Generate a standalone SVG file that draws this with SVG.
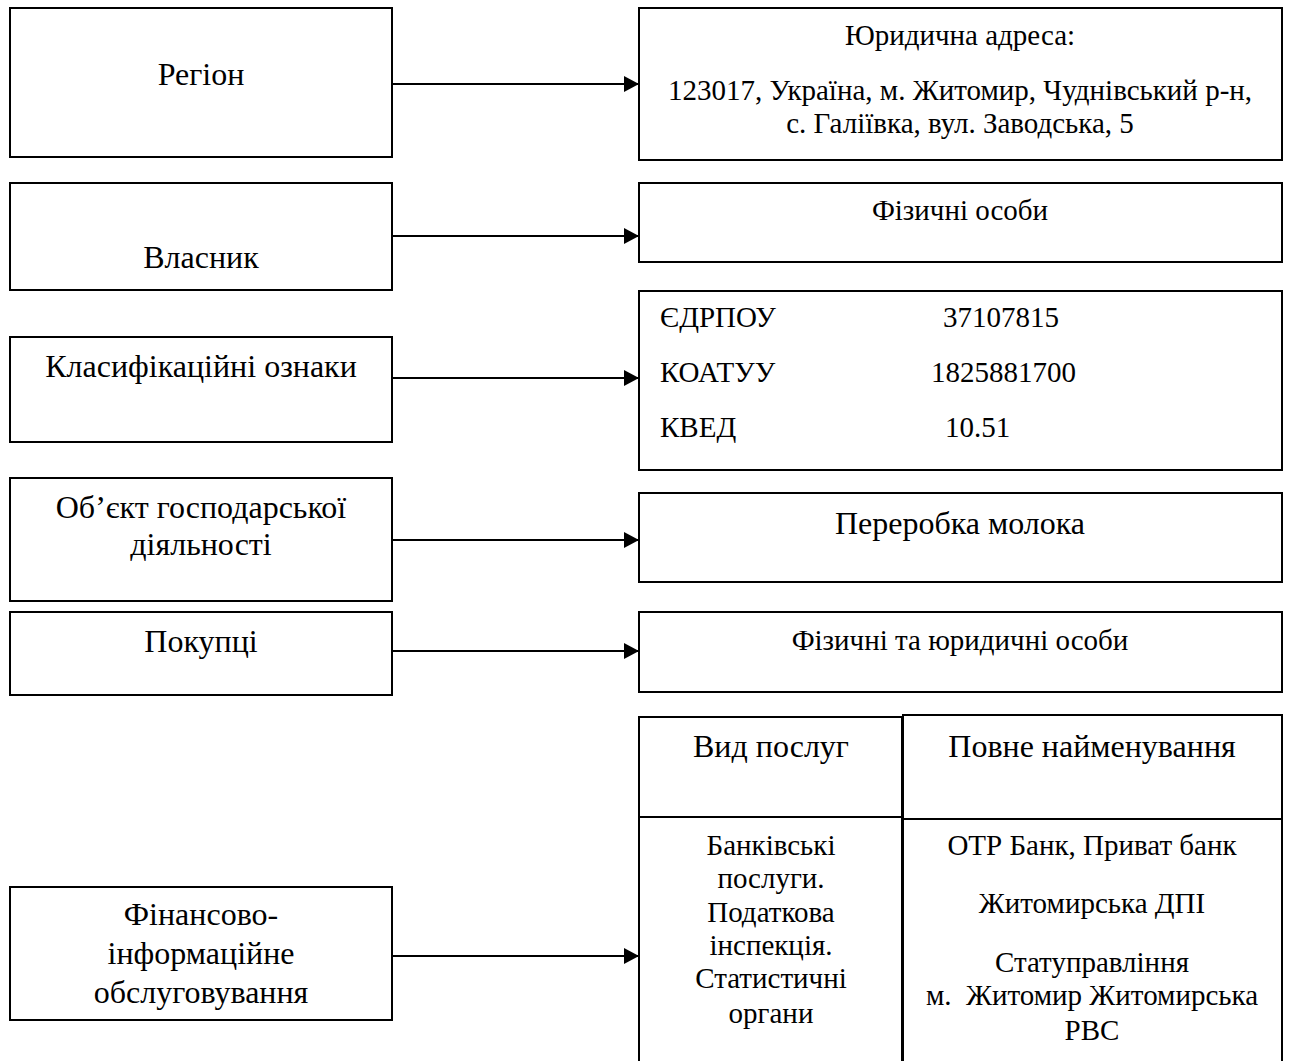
<svg xmlns="http://www.w3.org/2000/svg" width="1289" height="1061" viewBox="0 0 1289 1061">
<defs>
<marker id="arr" markerUnits="userSpaceOnUse" markerWidth="16" markerHeight="16" refX="15" refY="8" orient="auto">
<path d="M0,0 L15,8 L0,16 Z" fill="#000"/>
</marker>
<style>
rect{fill:#fff;stroke:#000;stroke-width:2}
text{font-family:"Liberation Serif","Times New Roman",serif;fill:#000}
.l{font-size:32px;text-anchor:middle}
.m{font-size:29px;text-anchor:middle}
.s{font-size:29px}
.c{stroke:#000;stroke-width:2;fill:none;marker-end:url(#arr)}
line.t{stroke:#000;stroke-width:2}
</style>
</defs>
<rect width="1289" height="1061" style="stroke:none"/>
<g id="n-region"><rect x="10" y="8" width="382" height="149"/><text class="l" x="201" y="85">Регіон</text></g>
<g id="n-vlasnyk"><rect x="10" y="183" width="382" height="107"/><text class="l" x="201" y="268">Власник</text></g>
<g id="n-klas"><rect x="10" y="337" width="382" height="105"/><text class="l" x="201" y="377">Класифікаційні ознаки</text></g>
<g id="n-obj"><rect x="10" y="478" width="382" height="123"/><text class="l" x="201" y="518">Об’єкт господарської</text><text class="l" x="201" y="555">діяльності</text></g>
<g id="n-pokuptsi"><rect x="10" y="612" width="382" height="83"/><text class="l" x="201" y="652">Покупці</text></g>
<g id="n-fin"><rect x="10" y="887" width="382" height="133"/><text class="l" x="201" y="925">Фінансово-</text><text class="l" x="201" y="964">інформаційне</text><text class="l" x="201" y="1003">обслуговування</text></g>
<g id="n-adresa"><rect x="639" y="8" width="643" height="152"/><text class="m" x="960" y="45">Юридична адреса:</text><text class="m" x="960" y="100">123017, Україна, м. Житомир, Чуднівський р-н,</text><text class="m" x="960" y="133">с. Галіївка, вул. Заводська, 5</text></g>
<g id="n-fiz"><rect x="639" y="183" width="643" height="79"/><text class="m" x="960" y="220">Фізичні особи</text></g>
<g id="n-kody"><rect x="639" y="291" width="643" height="179"/>
<text class="s" x="660" y="327">ЄДРПОУ</text><text class="s" x="943" y="327">37107815</text>
<text class="s" x="660" y="382">КОАТУУ</text><text class="s" x="931" y="382">1825881700</text>
<text class="s" x="660" y="437">КВЕД</text><text class="s" x="945" y="437">10.51</text></g>
<g id="n-pererobka"><rect x="639" y="493" width="643" height="89"/><text class="l" x="960" y="534">Переробка молока</text></g>
<g id="n-fizyur"><rect x="639" y="612" width="643" height="80"/><text class="m" x="960" y="650">Фізичні та юридичні особи</text></g>
<g id="n-table">
<rect x="639" y="717" width="263" height="360"/>
<rect x="903" y="715" width="379" height="362"/>
<line class="t" x1="639" y1="817" x2="902" y2="817"/>
<line class="t" x1="903" y1="819" x2="1282" y2="819"/>
<text class="l" x="771" y="757">Вид послуг</text>
<text class="l" x="1092" y="757">Повне найменування</text>
<text class="m" x="771" y="855">Банківські</text>
<text class="m" x="771" y="888">послуги.</text>
<text class="m" x="771" y="922">Податкова</text>
<text class="m" x="771" y="955">інспекція.</text>
<text class="m" x="771" y="988">Статистичні</text>
<text class="m" x="771" y="1023">органи</text>
<text class="m" x="1092" y="855">ОТР Банк, Приват банк</text>
<text class="m" x="1092" y="913">Житомирська ДПІ</text>
<text class="m" x="1092" y="972">Статуправління</text>
<text class="m" x="1092" y="1005" xml:space="preserve">м.  Житомир Житомирська</text>
<text class="m" x="1092" y="1040">РВС</text>
</g>
<g id="connectors">
<line class="c" x1="392" y1="84" x2="639" y2="84"/>
<line class="c" x1="392" y1="236" x2="639" y2="236"/>
<line class="c" x1="392" y1="378" x2="639" y2="378"/>
<line class="c" x1="392" y1="540" x2="639" y2="540"/>
<line class="c" x1="392" y1="651" x2="639" y2="651"/>
<line class="c" x1="392" y1="956" x2="639" y2="956"/>
</g>
</svg>
